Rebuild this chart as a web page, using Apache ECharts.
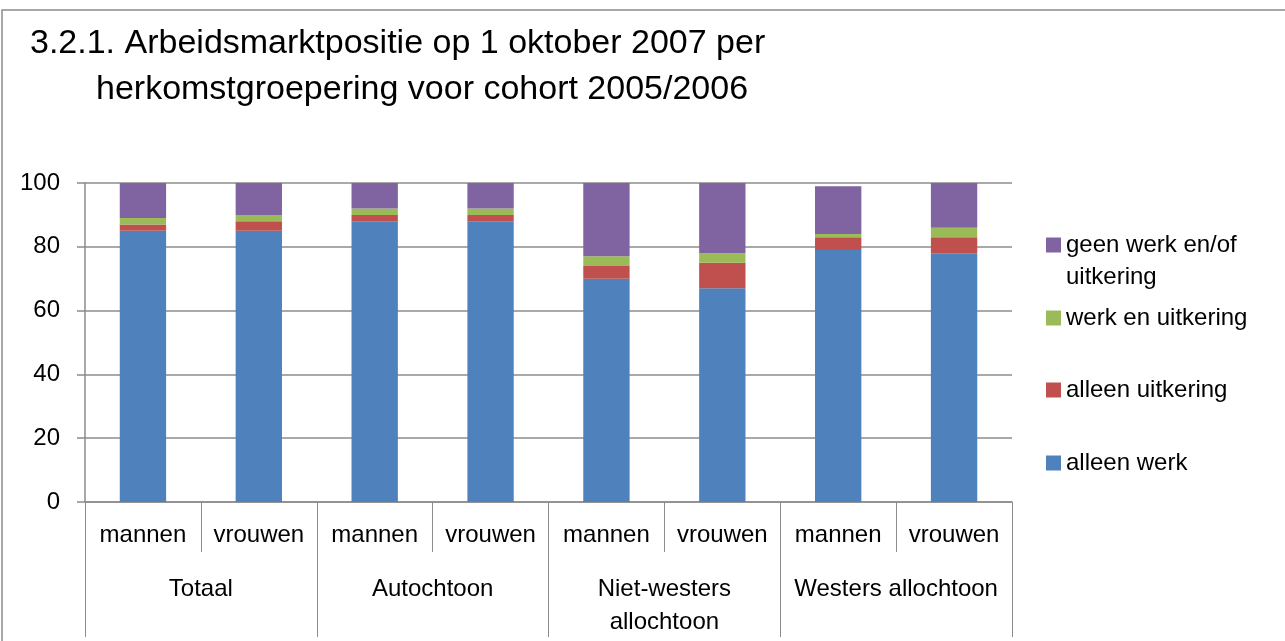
<!DOCTYPE html>
<html>
<head>
<meta charset="utf-8">
<script src="https://cdn.jsdelivr.net/npm/echarts@6/dist/echarts.min.js"></script>
<style>
  html, body { margin: 0; padding: 0; background: #fff; }
  #chart { width: 1285px; height: 641px; }
</style>
</head>
<body>
<div id="chart"></div>
<script>
  // data
  const sexLabels = ['mannen', 'vrouwen', 'mannen', 'vrouwen', 'mannen', 'vrouwen', 'mannen', 'vrouwen']
  const groupLabels = ['Totaal', 'Autochtoon', 'Niet-westers\nallochtoon', 'Westers allochtoon']
  const alleenWerk = [85, 85, 88, 88, 70, 67, 79, 78]
  const alleenUitkering = [2, 3, 2, 2, 4, 8, 4, 5]
  const werkEnUitkering = [2, 2, 2, 2, 3, 3, 1, 3]
  const geenWerk = [11, 10, 8, 8, 23, 22, 15, 14]

  const fontFam = "'Liberation Sans', Arial, sans-serif"
  const gridColor = '#8c8c8c'
  const labelSize = 24

  const chart = echarts.init(document.getElementById('chart'))

  const seriesDefs = [
    { name: 'alleen werk', color: '#4F81BD', data: alleenWerk },
    { name: 'alleen uitkering', color: '#C0504D', data: alleenUitkering },
    { name: 'werk en uitkering', color: '#9BBB59', data: werkEnUitkering },
    { name: 'geen werk en/of\nuitkering', color: '#8064A2', data: geenWerk }
  ]

  const series = seriesDefs.map(function (s) {
    return {
      name: s.name,
      type: 'bar',
      stack: 'total',
      barWidth: '40%',
      itemStyle: { color: s.color },
      data: s.data
    }
  })

  // one legend per item so the uneven spacing can be matched
  const legendTops = [192, 297, 369, 442]
  const legendOrder = [3, 2, 1, 0]
  const legends = legendOrder.map(function (idx, k) {
    return {
      data: [seriesDefs[idx].name],
      left: 1041,
      top: legendTops[k],
      orient: 'vertical',
      icon: 'rect',
      itemWidth: 15,
      itemHeight: 15,
      selectedMode: false,
      // blank first line keeps the icon level with the first text line
      formatter: k === 0 ? function (name) { return '\n' + name } : '{name}',
      textStyle: { fontSize: labelSize, color: '#000', fontFamily: fontFam, lineHeight: 32 }
    }
  })

  chart.setOption({
    backgroundColor: '#fff',
    animation: false,
    title: [{
      text: '3.2.1. Arbeidsmarktpositie op 1 oktober 2007 per',
      left: 25,
      top: 22,
      textStyle: { fontSize: 34, fontWeight: 'normal', color: '#000', fontFamily: fontFam }
    }, {
      text: 'herkomstgroepering voor cohort 2005/2006',
      left: 91,
      top: 68,
      textStyle: { fontSize: 34, fontWeight: 'normal', color: '#000', fontFamily: fontFam }
    }],
    legend: legends,
    grid: { left: 85, right: 273, top: 183, bottom: 139, containLabel: false },
    xAxis: [{
      type: 'category',
      data: sexLabels,
      position: 'bottom',
      axisLine: { lineStyle: { color: gridColor, width: 1.5 } },
      axisTick: { show: true, length: 50, interval: 0, lineStyle: { color: gridColor, width: 1 } },
      axisLabel: {
        interval: 0, margin: 21, verticalAlign: 'top', lineHeight: 24,
        fontSize: labelSize, color: '#000', fontFamily: fontFam
      }
    }, {
      type: 'category',
      data: groupLabels,
      position: 'bottom',
      axisLine: { show: false },
      axisTick: { show: true, length: 135, interval: 0, lineStyle: { color: gridColor, width: 1 } },
      axisLabel: {
        interval: 0, margin: 71, verticalAlign: 'top', lineHeight: 33,
        fontSize: labelSize, color: '#000', fontFamily: fontFam
      }
    }],
    yAxis: {
      type: 'value',
      min: 0,
      max: 100,
      interval: 20,
      axisLine: { show: true, lineStyle: { color: gridColor, width: 1.5 } },
      axisTick: { show: true, length: 8, lineStyle: { color: gridColor, width: 1.5 } },
      splitLine: { show: true, lineStyle: { color: gridColor, width: 1.5 } },
      axisLabel: { fontSize: labelSize, color: '#000', fontFamily: fontFam, margin: 25 }
    },
    graphic: [{
      type: 'rect',
      shape: { x: 2, y: 10, width: 1300, height: 700 },
      style: { fill: 'none', stroke: gridColor, lineWidth: 1.5 },
      silent: true
    }],
    series: series
  })
</script>
</body>
</html>
